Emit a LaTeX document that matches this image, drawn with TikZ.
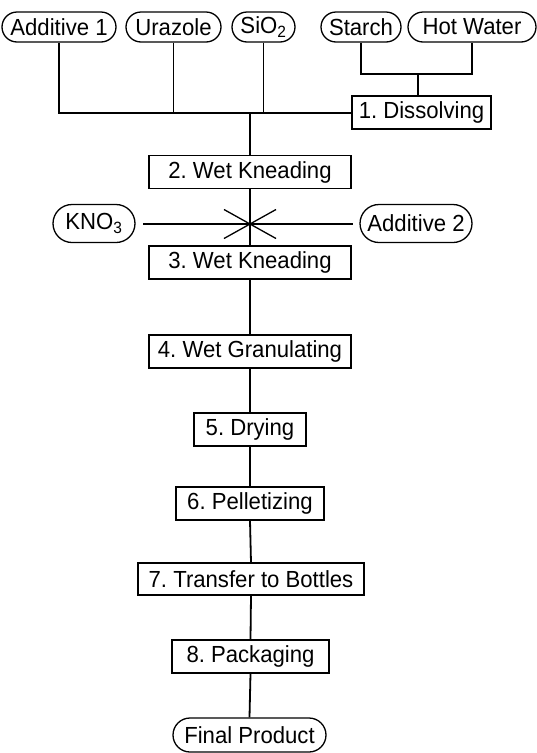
\documentclass[tikz,border=0pt]{standalone}
\usepackage{fontspec}
\setmainfont{Liberation Sans}[FakeStretch=0.95]
\usetikzlibrary{shapes.misc}
\begin{document}
\frenchspacing
\begin{tikzpicture}[x=1pt,y=-1pt,
  every node/.style={font=\fontsize{23.3}{27}\selectfont, inner sep=0pt},
  stepbox/.style={draw, line width=1.3pt, rectangle, minimum height=33pt},
  oval/.style={draw, line width=1.3pt, rounded rectangle, minimum height=30pt},
  conn/.style={line width=1.8pt}]
\useasboundingbox (0,0) rectangle (537,753);
% top inputs
\node[oval, minimum width=114pt] (a1) at (59,27) {Additive 1};
\node[oval, minimum width=95pt]  (ur) at (173.5,27) {Urazole};
\node[oval, minimum width=63pt]  (si) at (263.5,27) {SiO\textsubscript{2}};
\node[oval, minimum width=80pt]  (st) at (361,27) {Starch};
\node[oval, minimum width=128pt] (hw) at (472,27) {Hot Water};
% steps
\node[stepbox, minimum width=139pt] (b1) at (421.5,112.5) {1. Dissolving};
\node[stepbox, minimum width=202pt] (b2) at (250,172) {2. Wet Kneading};
\node[stepbox, minimum width=202pt] (b3) at (250,262.5) {3. Wet Kneading};
\node[stepbox, minimum width=202pt] (b4) at (250,351.5) {4. Wet Granulating};
\node[stepbox, minimum width=112pt] (b5) at (250,429.5) {5. Drying};
\node[stepbox, minimum width=148pt] (b6) at (250,503.5) {6. Pelletizing};
\node[stepbox, minimum width=226pt, minimum height=32pt] (b7) at (251,579) {7. Transfer to Bottles};
\node[stepbox, minimum width=157pt] (b8) at (250.5,656.5) {8. Packaging};
\node[oval, minimum width=153pt, minimum height=34pt] (fp) at (249.5,735) {Final Product};
% side inputs
\node[oval, minimum width=82pt, minimum height=38pt] (kn) at (94,223.5) {KNO\textsubscript{3}};
\node[oval, minimum width=112pt, minimum height=38pt] (a2) at (416,223.5) {Additive 2};
% coordinates
\coordinate (swj) at (418,74);
\coordinate (mj) at (250,113);
\coordinate (cx) at (250,224);
\coordinate (kl) at (143,224);
\coordinate (kr) at (353,224);
% starch + hot water
\draw[conn] (st.south) -- (st.south |- swj) -- (hw.south |- swj) -- (hw.south);
\draw[conn] (swj) -- (swj |- b1.north);
% main collection line
\draw[conn] (a1.south) -- (a1.south |- mj) -- (b1.west |- mj);
\draw[conn] (ur.south) -- (ur.south |- mj);
\draw[conn] (si.south) -- (si.south |- mj);
\draw[conn] (mj) -- (b2.north);
% trunk
\draw[conn] (b2.south) -- (b3.north);
\draw[conn] (b3.south) -- (b4.north);
\draw[conn] (b4.south) -- (b5.north);
\draw[conn] (b5.south) -- (b6.north);
\draw[conn] (b6.south) -- (b7.north);
\draw[conn] (b7.south) -- (b8.north);
\draw[conn] (b8.south) -- (fp.north);
% side feeds and cross
\draw[line width=1.3pt] (kl) -- (kr);
\draw[line width=1.3pt] ([shift={(-26,-14.5)}]cx) -- ([shift={(26,14.5)}]cx);
\draw[line width=1.3pt] ([shift={(-26,14.5)}]cx) -- ([shift={(26,-14.5)}]cx);
\end{tikzpicture}
\end{document}
